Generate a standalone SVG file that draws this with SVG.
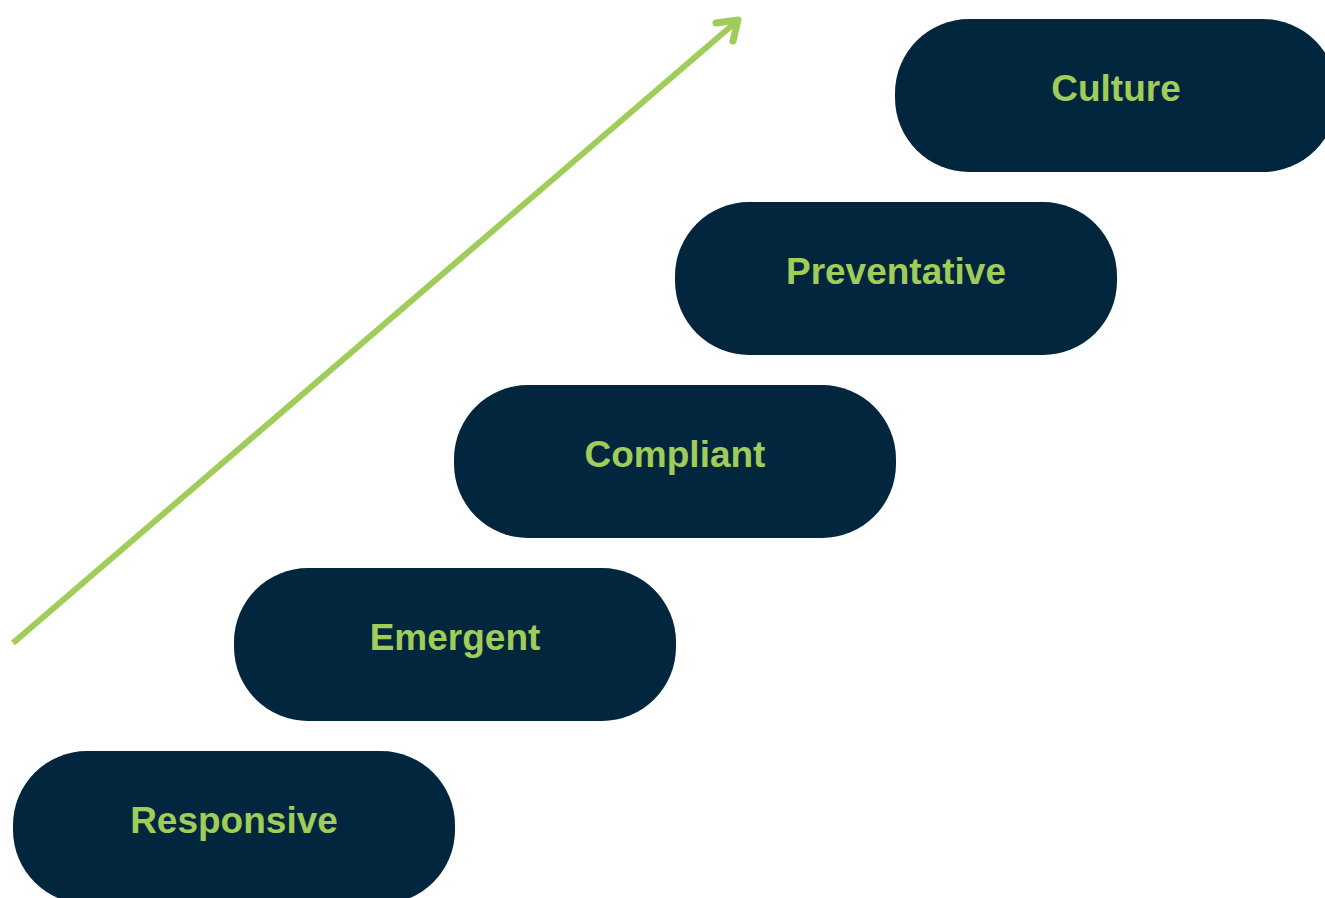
<svg xmlns="http://www.w3.org/2000/svg" width="1325" height="898" viewBox="0 0 1325 898">
  <style>
    .pill { fill: #02263D; }
    .label { fill: #A0CC5A; font-family: "Liberation Sans", Arial, sans-serif; font-weight: bold; font-size: 37px; text-anchor: middle; }
    .arrow { stroke: #A0CC5A; stroke-width: 6; fill: none; }
    .head { stroke: #A0CC5A; stroke-width: 7; fill: none; stroke-linecap: round; stroke-linejoin: round; }
  </style>
  <rect width="1325" height="898" fill="#FFFFFF"/>

  <!-- rising arrow -->
  <g id="connectors">
    <line class="arrow" x1="13" y1="643" x2="736" y2="22" stroke-linecap="butt"/>
    <polyline class="head" points="716,23 738,20 733,41"/>
  </g>

  <!-- maturity steps -->
  <g id="node-responsive">
    <rect class="pill" x="13" y="751" width="442" height="153" rx="74" ry="74"/>
    <text class="label" x="234" y="833">Responsive</text>
  </g>
  <g id="node-emergent">
    <rect class="pill" x="234" y="568" width="442" height="153" rx="74" ry="74"/>
    <text class="label" x="455" y="650">Emergent</text>
  </g>
  <g id="node-compliant">
    <rect class="pill" x="454" y="385" width="442" height="153" rx="74" ry="74"/>
    <text class="label" x="675" y="467">Compliant</text>
  </g>
  <g id="node-preventative">
    <rect class="pill" x="675" y="202" width="442" height="153" rx="74" ry="74"/>
    <text class="label" x="896" y="284">Preventative</text>
  </g>
  <g id="node-culture">
    <rect class="pill" x="895" y="19" width="442" height="153" rx="74" ry="74"/>
    <text class="label" x="1116" y="101">Culture</text>
  </g>
</svg>
